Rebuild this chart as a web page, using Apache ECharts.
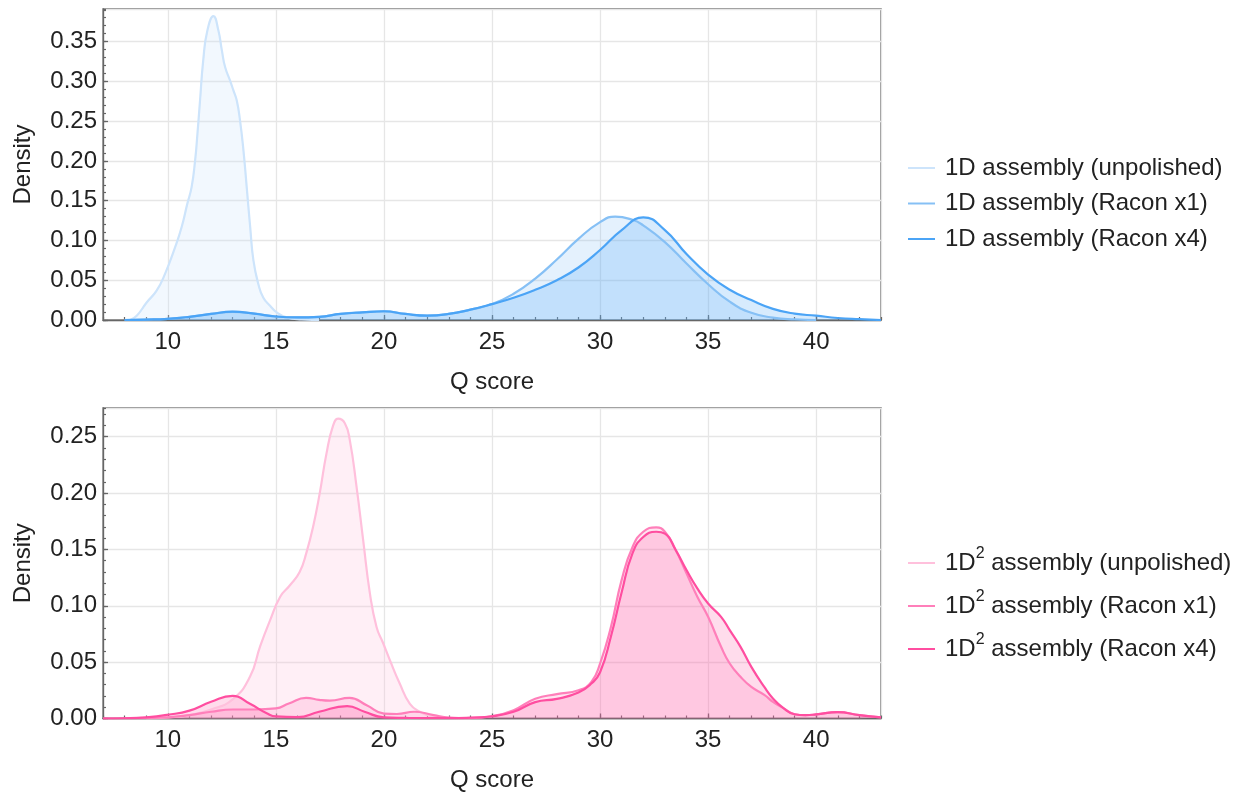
<!DOCTYPE html>
<html>
<head>
<meta charset="utf-8">
<script src="https://cdn.jsdelivr.net/npm/echarts@6/dist/echarts.min.js"></script>
<style>
  html, body { margin: 0; padding: 0; background: #fff; }
  #chart { width: 1258px; height: 797px; }
</style>
</head>
<body>
<div id="chart"></div>
<script>
// ---- top panel: 1D assembly ----
const topUnpolQ = [8.25, 8.56, 9.02, 9.48, 9.87, 10.33, 10.64, 10.9, 11.1, 11.26, 11.37, 11.49, 11.64, 11.83, 12.11, 12.34, 12.5, 12.65, 12.88, 13.03, 13.19, 13.34, 13.5, 13.65, 13.81, 13.96, 14.19, 14.42, 14.73, 15.04, 15.5, 16.2, 17];
const topUnpolD = [0, 0.0054, 0.022, 0.037, 0.058, 0.091, 0.117, 0.146, 0.167, 0.2, 0.234, 0.276, 0.327, 0.364, 0.382, 0.364, 0.339, 0.318, 0.301, 0.289, 0.276, 0.251, 0.213, 0.167, 0.117, 0.075, 0.045, 0.028, 0.018, 0.0096, 0.0033, 0.0008, 0];

const topX1Q = [8, 9, 10, 11, 12, 13, 14, 15, 16, 17, 18, 19, 20, 21, 22, 23, 24, 25, 26, 27, 28, 29, 30, 30.7, 31.5, 32, 33, 34, 35, 36, 37, 38, 39, 40];
const topX1D = [0, 0.0005, 0.0015, 0.004, 0.0076, 0.0102, 0.008, 0.0044, 0.0033, 0.004, 0.0076, 0.0096, 0.0108, 0.0076, 0.0055, 0.0076, 0.013, 0.020, 0.033, 0.052, 0.076, 0.102, 0.123, 0.130, 0.126, 0.119, 0.098, 0.071, 0.045, 0.023, 0.009, 0.003, 0.0008, 0];

const topX4Q = [8, 9, 10, 11, 12, 13, 14, 15, 16, 17, 18, 19, 20, 21, 22, 23, 24, 25, 26, 27, 28, 29, 30, 31, 32, 33, 34, 35, 36, 37, 38, 39, 40, 41, 42, 43];
const topX4D = [0, 0.0005, 0.0015, 0.004, 0.0076, 0.0105, 0.008, 0.0044, 0.0033, 0.004, 0.0076, 0.0096, 0.011, 0.0076, 0.0055, 0.0076, 0.013, 0.020, 0.028, 0.038, 0.050, 0.066, 0.088, 0.113, 0.129, 0.113, 0.083, 0.057, 0.038, 0.025, 0.014, 0.008, 0.0054, 0.0025, 0.001, 0];

// ---- bottom panel: 1D2 assembly ----
const botUnpolQ = [9, 10, 11, 12, 13, 13.8, 14.27, 14.73, 15.2, 15.64, 16.1, 16.41, 16.72, 17.03, 17.34, 17.65, 17.88, 18.19, 18.42, 18.73, 19.04, 19.35, 19.66, 19.96, 20.27, 20.73, 21.2, 21.66, 22.27, 23, 24];
const botUnpolD = [0, 0.001, 0.003, 0.008, 0.017, 0.037, 0.064, 0.087, 0.108, 0.118, 0.130, 0.147, 0.170, 0.200, 0.235, 0.260, 0.266, 0.262, 0.247, 0.206, 0.158, 0.111, 0.081, 0.067, 0.052, 0.031, 0.013, 0.006, 0.0017, 0.0005, 0];

const botX1Q = [7, 8, 9, 10, 11, 12, 13, 14, 15, 15.6, 16.4, 17, 17.5, 18.4, 19.2, 20, 20.6, 21.4, 22.3, 23, 24, 25, 26, 27, 28, 29, 29.6, 30, 30.5, 31, 31.5, 32, 32.6, 33, 33.5, 34, 34.5, 35, 35.6, 36, 36.5, 37, 37.6, 38, 38.5, 39, 39.5, 40, 41, 42, 43];
const botX1D = [0, 0.0002, 0.0005, 0.001, 0.003, 0.006, 0.008, 0.008, 0.009, 0.0133, 0.0183, 0.0165, 0.0158, 0.0183, 0.0118, 0.0044, 0.004, 0.006, 0.003, 0.0008, 0.0003, 0.002, 0.0074, 0.0175, 0.0216, 0.025, 0.0325, 0.0488, 0.081, 0.123, 0.152, 0.1657, 0.1696, 0.1657, 0.1495, 0.1288, 0.108, 0.0902, 0.0636, 0.0488, 0.037, 0.028, 0.021, 0.0148, 0.009, 0.0038, 0.003, 0.0036, 0.0056, 0.003, 0.001];

const botX4Q = [7, 8, 9, 10, 11, 12, 13, 13.8, 14.6, 15, 16, 17, 18.3, 19.1, 20, 21, 22, 23, 24, 25, 26, 27, 28, 29, 29.6, 30, 30.5, 31, 31.5, 32, 32.6, 33, 33.5, 34, 34.5, 35, 35.6, 36, 36.5, 37, 37.6, 38, 38.5, 39, 39.5, 40, 41, 42, 43];
const botX4D = [0, 0.0002, 0.001, 0.0033, 0.007, 0.0148, 0.020, 0.013, 0.0044, 0.0018, 0.0012, 0.006, 0.011, 0.006, 0.001, 0.0005, 0.0003, 0.0003, 0.0008, 0.002, 0.006, 0.0145, 0.0174, 0.023, 0.031, 0.041, 0.0725, 0.112, 0.1465, 0.161, 0.1657, 0.164, 0.1495, 0.1317, 0.1154, 0.102, 0.0902, 0.0784, 0.0636, 0.0458, 0.028, 0.0178, 0.009, 0.0038, 0.003, 0.0036, 0.0056, 0.003, 0.001];

const topNames = ['1D assembly (unpolished)', '1D assembly (Racon x1)', '1D assembly (Racon x4)'];
const botNames = ['1D2 assembly (unpolished)', '1D2 assembly (Racon x1)', '1D2 assembly (Racon x4)'];
const blueColors = ['#cde4fb', '#86c0f5', '#4ba4f6'];
const pinkColors = ['#ffc0dc', '#ff7fba', '#ff4ea0'];

const xMin = 7, xMax = 43;
const topYMax = 0.391, botYMax = 0.2755;

const FONT = '"Liberation Sans", "Helvetica Neue", Arial, sans-serif';
const TXT = '#222';
const AX = '#666';

function pairs(q, d) {
  return q.map((v, i) => [v, d[i]]);
}

function mainX(gridIndex) {
  return {
    type: 'value', gridIndex: gridIndex, position: 'bottom',
    min: xMin, max: xMax, splitNumber: 7,
    name: 'Q score', nameLocation: 'middle', nameGap: 50,
    nameTextStyle: { fontSize: 24, color: TXT, fontFamily: FONT },
    axisLine: { show: true, onZero: false, lineStyle: { color: AX, width: 1.3 } },
    axisTick: { show: true, inside: true, length: 5, lineStyle: { color: AX, width: 1.3 } },
    axisLabel: { fontSize: 24, color: TXT, fontFamily: FONT, margin: 10, showMinLabel: false, showMaxLabel: false },
    splitLine: { show: true, lineStyle: { color: '#e6e6e6', width: 1.3 } }
  };
}
function tickX(gridIndex) {
  return {
    type: 'value', gridIndex: gridIndex, position: 'bottom',
    min: xMin, max: xMax, interval: 1,
    axisLine: { show: false },
    axisTick: { show: true, inside: true, length: 3, lineStyle: { color: AX, width: 1.2 } },
    axisLabel: { show: false },
    splitLine: { show: false }
  };
}
function mainY(gridIndex, yMax) {
  return {
    type: 'value', gridIndex: gridIndex, position: 'left',
    min: 0, max: yMax, interval: 0.05,
    name: 'Density', nameLocation: 'middle', nameGap: 68,
    nameTextStyle: { fontSize: 24, color: TXT, fontFamily: FONT },
    axisLine: { show: true, lineStyle: { color: AX, width: 1.3 } },
    axisTick: { show: true, inside: true, length: 5, lineStyle: { color: AX, width: 1.3 } },
    axisLabel: { fontSize: 24, color: TXT, fontFamily: FONT, margin: 6, showMaxLabel: false,
      formatter: v => v.toFixed(2) },
    splitLine: { show: true, lineStyle: { color: '#e6e6e6', width: 1.3 } }
  };
}
function tickY(gridIndex, yMax) {
  return {
    type: 'value', gridIndex: gridIndex, position: 'left',
    min: 0, max: yMax, interval: 0.01,
    axisLine: { show: false },
    axisTick: { show: true, inside: true, length: 3, lineStyle: { color: AX, width: 1.2 } },
    axisLabel: { show: false },
    splitLine: { show: false }
  };
}
function kde(name, q, d, color, xi, yi, op) {
  return {
    name: name, type: 'line', xAxisIndex: xi, yAxisIndex: yi,
    data: pairs(q, d), smooth: 0.5,
    showSymbol: false, symbol: 'none',
    itemStyle: { color: color },
    lineStyle: { color: color, width: 2.2 },
    areaStyle: { color: color, opacity: op },
    emphasis: { disabled: true }
  };
}

let chart = echarts.init(document.getElementById('chart'));
let option = {
  animation: false,
  textStyle: { fontFamily: FONT },
  grid: [
    { left: 103, right: 377, top: 9, height: 311, show: true, borderColor: AX, borderWidth: 1.3, backgroundColor: 'transparent' },
    { left: 103, right: 377, top: 408, height: 310.5, show: true, borderColor: AX, borderWidth: 1.3, backgroundColor: 'transparent' }
  ],
  xAxis: [mainX(0), tickX(0), mainX(1), tickX(1)],
  yAxis: [mainY(0, topYMax), tickY(0, topYMax), mainY(1, botYMax), tickY(1, botYMax)],
  legend: [
    {
      data: topNames, orient: 'vertical', left: 903, top: 151,
      icon: 'rect', itemWidth: 27, itemHeight: 2, itemGap: 11.5,
      textStyle: { fontSize: 24, lineHeight: 24, color: TXT, fontFamily: FONT, padding: [0, 0, 0, 5] }
    },
    {
      data: botNames, orient: 'vertical', left: 903, top: 541,
      icon: 'rect', itemWidth: 27, itemHeight: 2, itemGap: 9,
      formatter: n => n.replace('1D2', '1D{sup|2}'),
      textStyle: {
        fontSize: 24, lineHeight: 34, color: TXT, fontFamily: FONT, padding: [0, 0, 0, 5],
        rich: { sup: { fontSize: 16, lineHeight: 14, verticalAlign: 'top', color: TXT, fontFamily: FONT } }
      }
    }
  ],
  series: [
    kde(topNames[0], topUnpolQ, topUnpolD, blueColors[0], 0, 0, 0.25),
    kde(topNames[1], topX1Q, topX1D, blueColors[1], 0, 0, 0.22),
    kde(topNames[2], topX4Q, topX4D, blueColors[2], 0, 0, 0.22),
    kde(botNames[0], botUnpolQ, botUnpolD, pinkColors[0], 2, 2, 0.25),
    kde(botNames[1], botX1Q, botX1D, pinkColors[1], 2, 2, 0.2),
    kde(botNames[2], botX4Q, botX4D, pinkColors[2], 2, 2, 0.2)
  ]
};
chart.setOption(option);
</script>
</body>
</html>
